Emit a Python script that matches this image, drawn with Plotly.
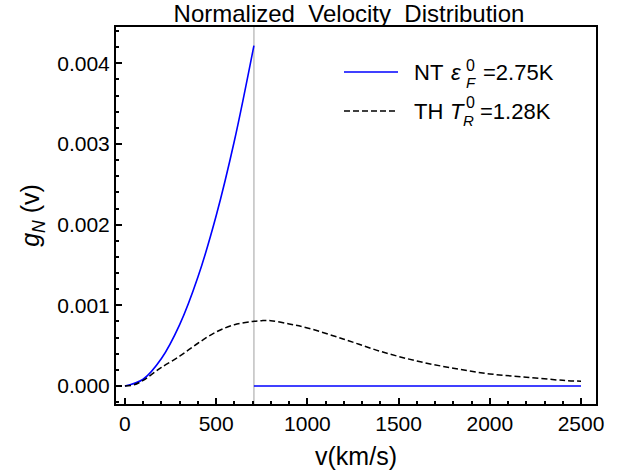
import plotly.graph_objects as go

# NT curve, cut off at v_cut, zero beyond
v_cut = 707
nt_v = [0, 100, 200, 300, 400, 500, 600, 707]
nt_g = [0, 0.000084, 0.00034, 0.00076, 0.00135, 0.00211, 0.00304, 0.00422]
nt_tail_v = [707, 2500]
nt_tail_g = [0, 0]

# TH curve
th_v = [0, 50, 100, 150, 200, 300, 400, 500, 600, 700, 750, 800, 900, 1000,
        1200, 1400, 1600, 1800, 2000, 2200, 2400, 2500]
th_g = [0, 0.000015, 0.00007, 0.00015, 0.00023, 0.00037, 0.00053, 0.00067,
        0.00076, 0.00080, 0.00081, 0.00081, 0.00077, 0.00072, 0.00058,
        0.00043, 0.00031, 0.00022, 0.00015, 0.00011, 0.00007, 0.00006]

FONT = "Liberation Sans, Arial, sans-serif"
DASH = "6px,3px"

fig = go.Figure()
fig.add_trace(go.Scatter(x=nt_v + [None] + nt_tail_v, y=nt_g + [None] + nt_tail_g,
                         mode="lines", line=dict(color="#0000ff", width=1.6, shape="spline"),
                         showlegend=False))
fig.add_trace(go.Scatter(x=th_v, y=th_g, mode="lines",
                         line=dict(color="black", width=1.5, dash=DASH, shape="spline"),
                         showlegend=False))

fig.add_shape(type="line", x0=v_cut, x1=v_cut, y0=0, y1=1, yref="paper",
              line=dict(color="#c0c0c0", width=1.5), layer="below")

# hand-made legend (stacked super/subscripts)
fig.add_shape(type="line", xref="paper", yref="paper", x0=0.475, x1=0.5875, y0=0.8806, y1=0.8806,
              line=dict(color="#0000ff", width=1.6))
fig.add_shape(type="line", xref="paper", yref="paper", x0=0.475, x1=0.5875, y0=0.777, y1=0.777,
              line=dict(color="black", width=1.5, dash=DASH))


def txt(x, y, s, size=22):
    fig.add_annotation(x=x, y=y, xref="paper", yref="paper", text=s, showarrow=False,
                       xanchor="left", yanchor="middle", borderpad=0,
                       font=dict(size=size, family=FONT, color="black"))


txt(0.619, 0.8806, "NT")
txt(0.696, 0.8806, "<i>ε</i>")
txt(0.727, 0.899, "0", 16)
txt(0.727, 0.852, "<i>F</i>", 15)
txt(0.762, 0.8806, "=2.75K")
txt(0.619, 0.777, "TH")
txt(0.694, 0.777, "<i>T</i>")
txt(0.727, 0.80, "0", 16)
txt(0.721, 0.752, "<i>R</i>", 15)
txt(0.756, 0.777, "=1.28K")

axis_common = dict(showline=True, linecolor="black", linewidth=2, mirror=True,
                   ticks="inside", ticklen=6, tickwidth=1.5, tickcolor="black",
                   showgrid=False, zeroline=False, automargin=False,
                   tickfont=dict(size=21, family=FONT, color="black"))

fig.update_xaxes(range=[-49, 2582], dtick=500, tick0=0,
                 minor=dict(ticks="inside", dtick=100, ticklen=3, tickcolor="black"),
                 title=dict(text="v(km/s)", font=dict(size=25, family=FONT, color="black"), standoff=13),
                 **axis_common)
fig.update_yaxes(range=[-0.000223, 0.00445], dtick=0.001, tick0=0, tickformat=".3f",
                 minor=dict(ticks="inside", dtick=0.0002, ticklen=3, tickcolor="black"),
                 title=dict(text="<i>g<sub>N</sub></i> (v)", font=dict(size=25, family=FONT, color="black"),
                            standoff=10),
                 **axis_common)

fig.update_layout(
    width=621, height=476,
    margin=dict(l=116, r=25, t=27, b=72, autoexpand=False),
    paper_bgcolor="white", plot_bgcolor="white",
    title=dict(text="Normalized\u00a0\u00a0Velocity\u00a0\u00a0Distribution", x=0.562, xanchor="center",
               y=0.971, yanchor="middle", font=dict(size=24, family=FONT, color="black")),
)

# drop the default page margin so the figure sits at the window's corner
fig.write_html("out.html", config={"displayModeBar": False},
               post_script="document.body.style.margin='0';")
